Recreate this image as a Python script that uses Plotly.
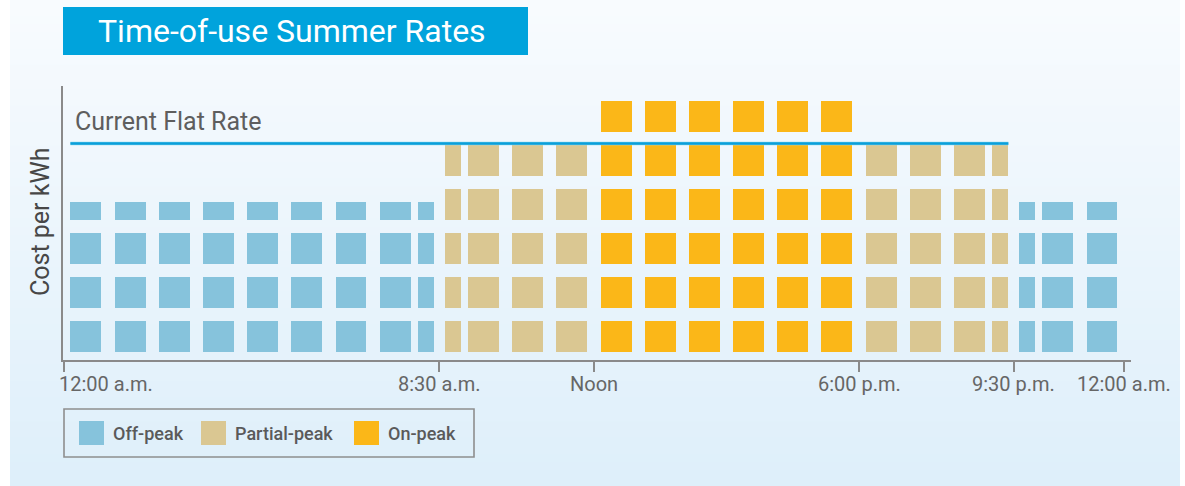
import math
import plotly.graph_objects as go

# ---------------- data ----------------
period_names = ["Off-peak", "Partial-peak", "On-peak", "Partial-peak", "Off-peak"]
period_start = [0, 8.5, 12, 18, 21.5]      # hour of day
period_end = [8.5, 12, 18, 21.5, 24]
rate_names = ["Off-peak", "Partial-peak", "On-peak"]
rate_values = [3.41, 4.70, 5.70]           # relative cost per kWh (block units)
flat_rate = 4.74
tick_hours = [0, 8.5, 12, 18, 21.5, 24]
tick_labels = ["12:00 a.m.", "8:30 a.m.", "Noon", "6:00 p.m.", "9:30 p.m.", "12:00 a.m."]

# ---------------- style ----------------
colors = {"Off-peak": "#86C3DC", "Partial-peak": "#DAC792", "On-peak": "#FBB718"}
FONT = "Roboto"
W, H = 1185, 486
ML, MR, MT, MB = 63, 54, 86, 126
PW, PH = W - ML - MR, H - MT - MB
BLOCK_H = 0.705
FULL_PAD = 0.15
HALF_GAP = 0.12
HALF_W = 0.36


def px_x(p):
    return (p - ML) / PW


def px_y(p):
    return (H - MB - p) / PH


rates = dict(zip(rate_names, rate_values))

# build stacked blocks for each period / hour slot
blocks = {n: dict(x=[], w=[], base=[], h=[]) for n in rate_names}
for name, a0, b0 in zip(period_names, period_start, period_end):
    hr = math.floor(a0)
    while hr < b0:
        a, b = max(a0, hr), min(b0, hr + 1)
        if b - a > 0.999:
            left, right = hr + FULL_PAD, hr + 1 - FULL_PAD
        elif a > hr:
            left = a + HALF_GAP
            right = left + HALF_W
        else:
            right = b - HALF_GAP
            left = right - HALF_W
        rate = rates[name]
        k = 0
        while k < rate:
            top = min(k + BLOCK_H, rate)
            d = blocks[name]
            d["x"].append((left + right) / 2)
            d["w"].append(right - left)
            d["base"].append(k)
            d["h"].append(top - k)
            k += 1
        hr += 1

fig = go.Figure()
for name in rate_names:
    d = blocks[name]
    fig.add_trace(go.Bar(
        x=d["x"], y=d["h"], base=d["base"], width=d["w"],
        marker=dict(color=colors[name], line=dict(width=0)),
        name=name, showlegend=False, hoverinfo="skip"))

# flat-rate line: from first block to last partial-peak block
line_x0 = min(x - w / 2 for x, w in zip(blocks["Off-peak"]["x"], blocks["Off-peak"]["w"]))
line_x1 = max(x + w / 2 for x, w in zip(blocks["Partial-peak"]["x"], blocks["Partial-peak"]["w"]))
fig.add_trace(go.Scatter(x=[line_x0, line_x1], y=[flat_rate, flat_rate], mode="lines",
                         line=dict(color="#8AD6F0", width=3.6), showlegend=False, hoverinfo="skip"))
fig.add_trace(go.Scatter(x=[line_x0, line_x1], y=[flat_rate, flat_rate], mode="lines",
                         line=dict(color="#0A9FDA", width=2.4), showlegend=False, hoverinfo="skip"))

shapes = []
# gradient background panel
N = 60
c0, c1 = (248, 251, 254), (222, 239, 250)
for i in range(N):
    t = i / (N - 1)
    col = tuple(round(c0[j] + (c1[j] - c0[j]) * t) for j in range(3))
    y0p = H * i / N
    y1p = H * (i + 1) / N + 1
    shapes.append(dict(type="rect", xref="paper", yref="paper", layer="below",
                       x0=px_x(10), x1=px_x(1180), y0=px_y(y1p), y1=px_y(y0p),
                       fillcolor="rgb(%d,%d,%d)" % col, line=dict(width=0)))
# title box
shapes.append(dict(type="rect", xref="paper", yref="paper", x0=px_x(63), x1=px_x(528),
                   y0=px_y(55), y1=px_y(7), fillcolor="#00A3DC", line=dict(width=0)))
# legend box
shapes.append(dict(type="rect", xref="paper", yref="paper", x0=px_x(64), x1=px_x(474),
                   y0=px_y(457), y1=px_y(409), fillcolor="rgba(0,0,0,0)",
                   line=dict(color="#8E8E8E", width=1.6)))

annotations = []
legend_sw_x = [79, 201, 354]
for name, sx in zip(rate_names, legend_sw_x):
    shapes.append(dict(type="rect", xref="paper", yref="paper", x0=px_x(sx), x1=px_x(sx + 25),
                       y0=px_y(445), y1=px_y(421), fillcolor=colors[name], line=dict(width=0)))
    annotations.append(dict(xref="paper", yref="paper", x=px_x(sx + 32), y=px_y(433),
                            xanchor="left", yanchor="middle", showarrow=False, text=name,
                            font=dict(family=FONT, size=18, color="#5A5A5A", weight=500)))

# title
annotations.append(dict(xref="paper", yref="paper", x=px_x(292), y=px_y(31),
                        xanchor="center", yanchor="middle", showarrow=False,
                        text="Time-of-use Summer Rates",
                        font=dict(family=FONT, size=32, color="white")))
# y title
annotations.append(dict(xref="paper", yref="paper", x=px_x(40), y=px_y(222),
                        xanchor="center", yanchor="middle", showarrow=False, textangle=-90,
                        text="Cost per kWh", font=dict(family=FONT, size=25, color="#474747")))
# flat rate label
annotations.append(dict(xref="x", yref="y", x=line_x0, y=flat_rate, xanchor="left",
                        yanchor="bottom", yshift=5, xshift=3, showarrow=False,
                        text="Current Flat Rate",
                        font=dict(family=FONT, size=25, color="#5E5E5E")))
# x tick labels
for i, (hv, lab) in enumerate(zip(tick_hours, tick_labels)):
    first = i == 0
    annotations.append(dict(xref="x", yref="paper", x=hv, y=px_y(370),
                            xanchor="left" if first else "center", xshift=-7 if first else 0,
                            yanchor="top", showarrow=False, text=lab,
                            font=dict(family=FONT, size=20, color="#666666")))

fig.update_layout(
    width=W, height=H, margin=dict(l=ML, r=MR, t=MT, b=MB, pad=0),
    paper_bgcolor="white", plot_bgcolor="rgba(0,0,0,0)",
    barmode="overlay", bargap=0, showlegend=False,
    shapes=shapes, annotations=annotations,
    xaxis=dict(range=[-0.018, 24.156], showgrid=False, zeroline=False, showline=True,
               linecolor="#8A8A8A", linewidth=1.6, ticks="outside", ticklen=10,
               tickwidth=1.6, tickcolor="#8A8A8A", tickvals=tick_hours,
               showticklabels=False, fixedrange=True),
    yaxis=dict(range=[-0.18, 6.045], showgrid=False, zeroline=False, showline=True,
               linecolor="#8A8A8A", linewidth=1.6, ticks="", showticklabels=False,
               fixedrange=True),
)

fig.write_html("out.html", config={"displayModeBar": False},
               post_script="document.body.style.margin='0';document.body.style.overflow='hidden';")
